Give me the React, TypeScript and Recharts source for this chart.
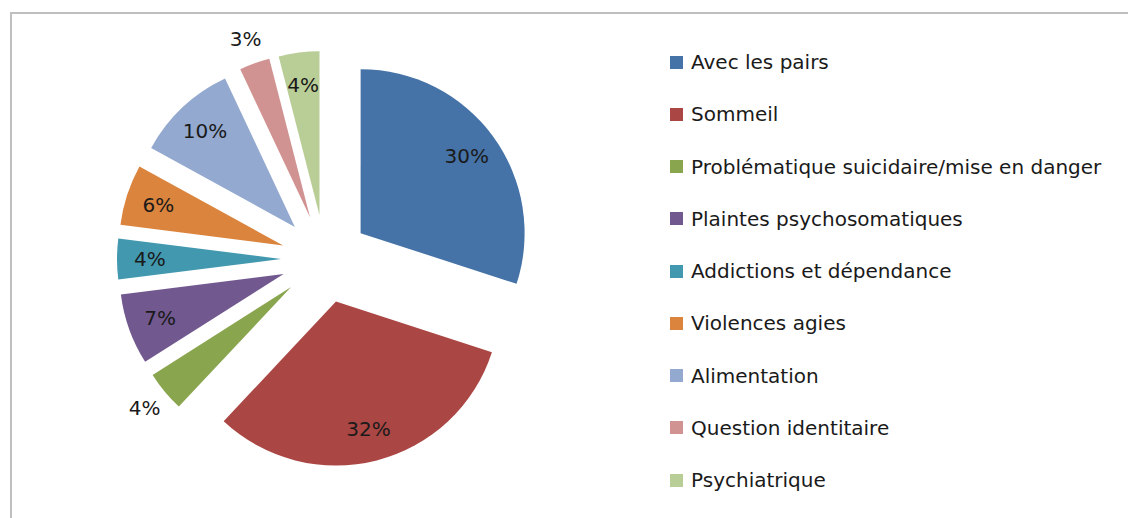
import { PieChart, Pie, Cell, Legend, Sector } from "recharts";

// catégories dans l'ordre du graphique (sens horaire depuis midi)
const categories = [
  "Avec les pairs",
  "Sommeil",
  "Problématique suicidaire/mise en danger",
  "Plaintes psychosomatiques",
  "Addictions et dépendance",
  "Violences agies",
  "Alimentation",
  "Question identitaire",
  "Psychiatrique",
];
const values = [30, 32, 4, 7, 4, 6, 10, 3, 4];
const colors = [
  "#4572A7",
  "#AA4643",
  "#89A54E",
  "#71588F",
  "#4198AF",
  "#DB843D",
  "#93A9CF",
  "#D19392",
  "#B9CD96",
];
// étiquettes placées hors de la part
const outsideLabels = ["Problématique suicidaire/mise en danger", "Question identitaire"];

const data = categories.map((name, i) => ({ name, value: values[i] }));

const FONT = "'DejaVu Sans', sans-serif";
const TEXT_COLOR = "#1a1a1a";
const RADIAN = Math.PI / 180;
const EXPLODE = 44;

const shift = (midAngle: number, dist: number) => ({
  dx: dist * Math.cos(-midAngle * RADIAN),
  dy: dist * Math.sin(-midAngle * RADIAN),
});

const ExplodedSector = (props: any) => {
  const { cx, cy, midAngle } = props;
  const { dx, dy } = shift(midAngle, EXPLODE);
  return <Sector {...props} cx={cx + dx} cy={cy + dy} stroke="none" />;
};

const renderLabel = (props: any) => {
  const { cx, cy, midAngle, outerRadius, percent, index } = props;
  const outside = outsideLabels.includes(categories[index]);
  const r = EXPLODE + (outside ? outerRadius + 26 : outerRadius * 0.8);
  const { dx, dy } = shift(midAngle, r);
  return (
    <text
      x={cx + dx}
      y={cy + dy}
      textAnchor="middle"
      dominantBaseline="central"
      fill={TEXT_COLOR}
      fontSize={20}
      fontFamily={FONT}
    >
      {`${Math.round(percent * 100)}%`}
    </text>
  );
};

const renderLegend = ({ payload }: any) => {
  // garder l'ordre des données, pas l'ordre alphabétique
  const items = [...(payload || [])].sort(
    (a: any, b: any) => categories.indexOf(a.value) - categories.indexOf(b.value)
  );
  return (
    <ul style={{ listStyle: "none", margin: 0, padding: 0 }}>
      {items.map((entry: any, i: number) => (
        <li
          key={`leg-${i}`}
          style={{ height: 52.25, display: "flex", alignItems: "center" }}
        >
          <span
            style={{
              display: "inline-block",
              width: 13,
              height: 13,
              background: entry.color,
              marginRight: 8,
            }}
          />
          <span style={{ fontFamily: FONT, fontSize: 20, color: TEXT_COLOR }}>
            {entry.value}
          </span>
        </li>
      ))}
    </ul>
  );
};

export default function App() {
  return (
    <div
      style={{
        position: "fixed",
        top: 0,
        left: 0,
        width: 1128,
        height: 518,
        overflow: "hidden",
        background: "#fff",
      }}
    >
      <div
        style={{
          position: "absolute",
          left: 10,
          top: 12,
          width: 1300,
          height: 700,
          borderTop: "2px solid #bfbfbf",
          borderLeft: "2px solid #bfbfbf",
        }}
      />
      <PieChart
        width={1128}
        height={518}
        margin={{ top: 0, right: 0, bottom: 0, left: 0 }}
        style={{ position: "absolute", left: 0, top: 0 }}
      >
        <Pie
          data={data}
          dataKey="value"
          nameKey="name"
          cx={325}
          cy={259}
          outerRadius={164}
          startAngle={90}
          endAngle={-270}
          stroke="none"
          shape={ExplodedSector}
          label={renderLabel}
          labelLine={false}
          isAnimationActive={false}
        >
          {data.map((d, i) => (
            <Cell key={d.name} fill={colors[i]} />
          ))}
        </Pie>
        <Legend
          layout="vertical"
          align="right"
          verticalAlign="top"
          itemSorter={null}
          content={renderLegend}
          wrapperStyle={{ left: 670, top: 36, width: 450 }}
        />
      </PieChart>
    </div>
  );
}
